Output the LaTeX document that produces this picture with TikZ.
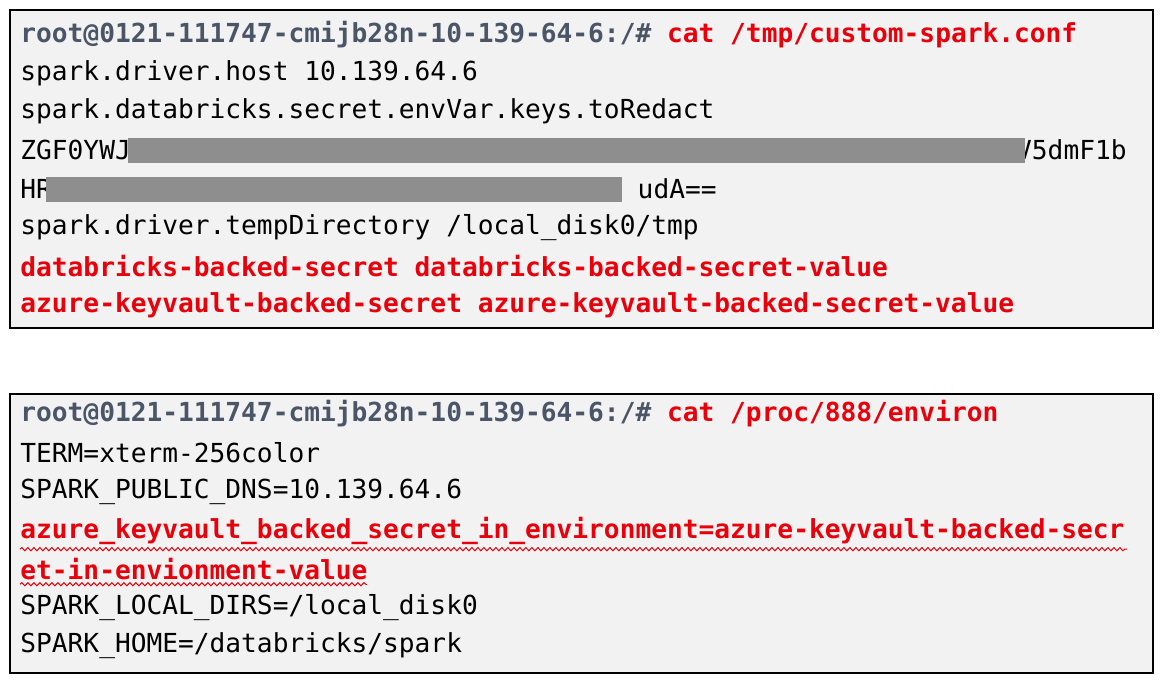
\documentclass[tikz,border=0pt]{standalone}
\usepackage{fontspec}
\setmonofont{DejaVu Sans Mono}
\usetikzlibrary{decorations.pathmorphing}
\definecolor{termbg}{HTML}{F2F2F2}
\definecolor{promptc}{HTML}{4A5568}
\definecolor{hotred}{HTML}{E8000B}
\definecolor{redact}{HTML}{8E8E8E}
\tikzstyle{termbox}= [draw=black,line width=1pt,fill=termbg]
\tikzstyle{ln}= [anchor=west,inner sep=0pt,font=\fontsize{13.1}{15}\selectfont\ttfamily]
\tikzstyle{hot}= [ln,text=hotred,font=\fontsize{13.1}{15}\selectfont\ttfamily\bfseries]
\tikzstyle{squig}= [hotred,line width=0.5pt,decorate,decoration={snake,amplitude=0.8pt,segment length=3pt}]
\begin{document}
\begin{tikzpicture}[x=0.5pt,y=-0.5pt]
		\useasboundingbox (0,0) rectangle (1170,692);

		\draw[termbox] (10,10) rectangle (1153,328);
		\draw[termbox] (10,394) rectangle (1153,673);

		% first box
		\node (p1) at (20,35) [ln] {\bfseries\textcolor{promptc}{root@0121-111747-cmijb28n-10-139-64-6:/\#} \textcolor{hotred}{cat /tmp/custom-spark.conf}};
		\node (a1) at (20,73) [ln] {spark.driver.host 10.139.64.6};
		\node (a2) at (20,111) [ln] {spark.databricks.secret.envVar.keys.toRedact};
		\node (a3) at (20,150) [ln] {ZGF0YWJ};
		\node (a3r) at (1127,150) [ln,anchor=east] {V5dmF1b};
		\node (a4) at (20,189) [ln] {HRf};
		\node (a4r) at (717,189) [ln,anchor=east] {udA==};
		\node (a5) at (20,228) [ln] {spark.driver.tempDirectory /local\_disk0/tmp};
		\node (a6) at (20,266) [hot] {databricks-backed-secret databricks-backed-secret-value};
		\node (a7) at (20,305) [hot] {azure-keyvault-backed-secret azure-keyvault-backed-secret-value};

		\fill[redact] (128,138) rectangle (1025,163);
		\fill[redact] (58,177) rectangle (622,202);
		\fill[redact] (46,177) rectangle (58,202);

		% second box
		\node (p2) at (20,414) [ln] {\bfseries\textcolor{promptc}{root@0121-111747-cmijb28n-10-139-64-6:/\#} \textcolor{hotred}{cat /proc/888/environ}};
		\node (b1) at (20,453) [ln] {TERM=xterm-256color};
		\node (b2) at (20,492) [ln] {SPARK\_PUBLIC\_DNS=10.139.64.6};
		\node (b3) at (20,531) [hot] {azure\_keyvault\_backed\_secret\_in\_environment=azure-keyvault-backed-secr};
		\node (b4) at (20,569) [hot] {et-in-envionment-value};
		\node (b5) at (20,608) [ln] {SPARK\_LOCAL\_DIRS=/local\_disk0};
		\node (b6) at (20,646) [ln] {SPARK\_HOME=/databricks/spark};

		\draw[squig] (b3.south west) ++(0,4) -- ++(1107,0);
		\draw[squig] (b4.south west) ++(0,4) -- ++(347,0);

	\end{tikzpicture}
\end{document}
